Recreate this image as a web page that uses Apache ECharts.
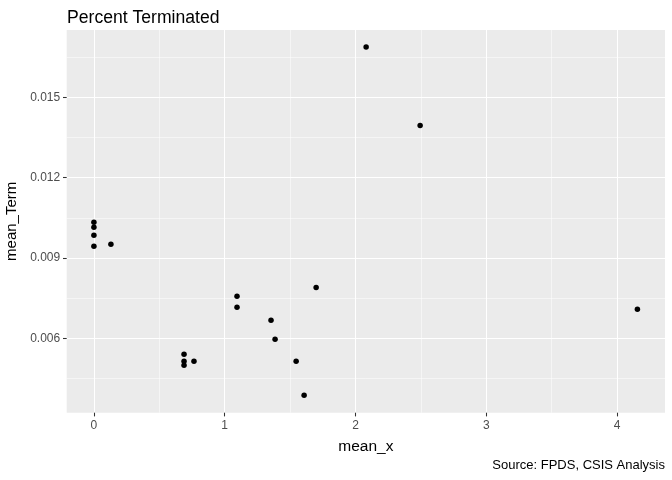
<!DOCTYPE html>
<html><head><meta charset="utf-8">
<script src="https://cdn.jsdelivr.net/npm/echarts@6/dist/echarts.min.js"></script>
<style>html,body{margin:0;padding:0;background:#fff}#c{width:672px;height:480px}</style>
</head><body><div id="c"></div>
<script>
const meanX = [0, 0, 0, 0, 0.130, 0.689, 0.689, 0.689, 0.765, 1.094, 1.094, 1.354, 1.385, 1.699, 1.546, 1.607, 2.081, 2.494, 4.155];
const meanTerm = [0.01033, 0.01015, 0.00985, 0.00944, 0.00951, 0.00540, 0.00514, 0.00499, 0.00514, 0.00757, 0.00716, 0.00667, 0.00596, 0.00790, 0.00514, 0.00387, 0.01688, 0.01395, 0.00708];
const xTicks = [0, 1, 2, 3, 4];
const xMinor = [0.5, 1.5, 2.5, 3.5];
const yTicks = [0.006, 0.009, 0.012, 0.015];
const yMinor = [0.0045, 0.0075, 0.0105, 0.0135, 0.0165];
const X_MIN = -0.208, X_MAX = 4.366, Y_MIN = 0.003216, Y_MAX = 0.01752;

const FONT = 'Liberation Sans, Arial, sans-serif';
const chart = echarts.init(document.getElementById('c'), null, {renderer: 'canvas'});
chart.setOption({
  animation: false,
  backgroundColor: '#ffffff',
  title: {
    text: 'Percent Terminated', left: 62, top: 4,
    textStyle: {fontFamily: FONT, fontSize: 17.6, fontWeight: 'normal', color: '#000'}
  },
  grid: {left: 66.7, right: 7, top: 30, bottom: 67.3, show: true, backgroundColor: '#EBEBEB', borderWidth: 0,
    containLabel: false, outerBoundsMode: 'none'},
  xAxis: [
    {
      type: 'value', min: X_MIN, max: X_MAX, position: 'bottom',
      axisLine: {show: false, onZero: false},
      axisTick: {show: true, customValues: xTicks, length: 3.7, lineStyle: {color: '#333333', width: 1.07}},
      axisLabel: {customValues: xTicks, color: '#4D4D4D', fontSize: 12, fontFamily: FONT, margin: 7},
      splitLine: {show: true, lineStyle: {color: '#ffffff', width: 1.07}},
      name: 'mean_x', nameLocation: 'middle', nameGap: 26,
      nameTextStyle: {fontFamily: FONT, fontSize: 15.5, color: '#000'}
    },
    {
      type: 'value', min: X_MIN, max: X_MAX, position: 'top',
      axisLine: {show: false, onZero: false},
      axisTick: {show: false, customValues: xMinor},
      axisLabel: {show: false, customValues: xMinor},
      splitLine: {show: true, lineStyle: {color: '#ffffff', width: 0.53}}
    }
  ],
  yAxis: [
    {
      type: 'value', min: Y_MIN, max: Y_MAX, position: 'left',
      axisLine: {show: false, onZero: false},
      axisTick: {show: true, customValues: yTicks, length: 3.7, lineStyle: {color: '#333333', width: 1.07}},
      axisLabel: {customValues: yTicks, color: '#4D4D4D', fontSize: 12, fontFamily: FONT, margin: 6.5,
        formatter: v => v.toFixed(3)},
      splitLine: {show: true, lineStyle: {color: '#ffffff', width: 1.07}},
      name: 'mean_Term', nameLocation: 'middle', nameGap: 41, nameRotate: 90,
      nameTextStyle: {fontFamily: FONT, fontSize: 15, color: '#000'}
    },
    {
      type: 'value', min: Y_MIN, max: Y_MAX, position: 'right',
      axisLine: {show: false, onZero: false},
      axisTick: {show: false, customValues: yMinor},
      axisLabel: {show: false, customValues: yMinor},
      splitLine: {show: true, lineStyle: {color: '#ffffff', width: 0.53}}
    }
  ],
  graphic: [{
    type: 'text', right: 7, top: 459,
    style: {text: 'Source: FPDS, CSIS Analysis', font: '13px ' + FONT, fill: '#000'}
  }],
  series: [{
    type: 'scatter', xAxisIndex: 0, yAxisIndex: 0,
    symbol: 'circle', symbolSize: 5.5,
    itemStyle: {color: '#000000', opacity: 1},
    data: meanX.map((x, i) => [x, meanTerm[i]])
  }]
});
</script></body></html>
